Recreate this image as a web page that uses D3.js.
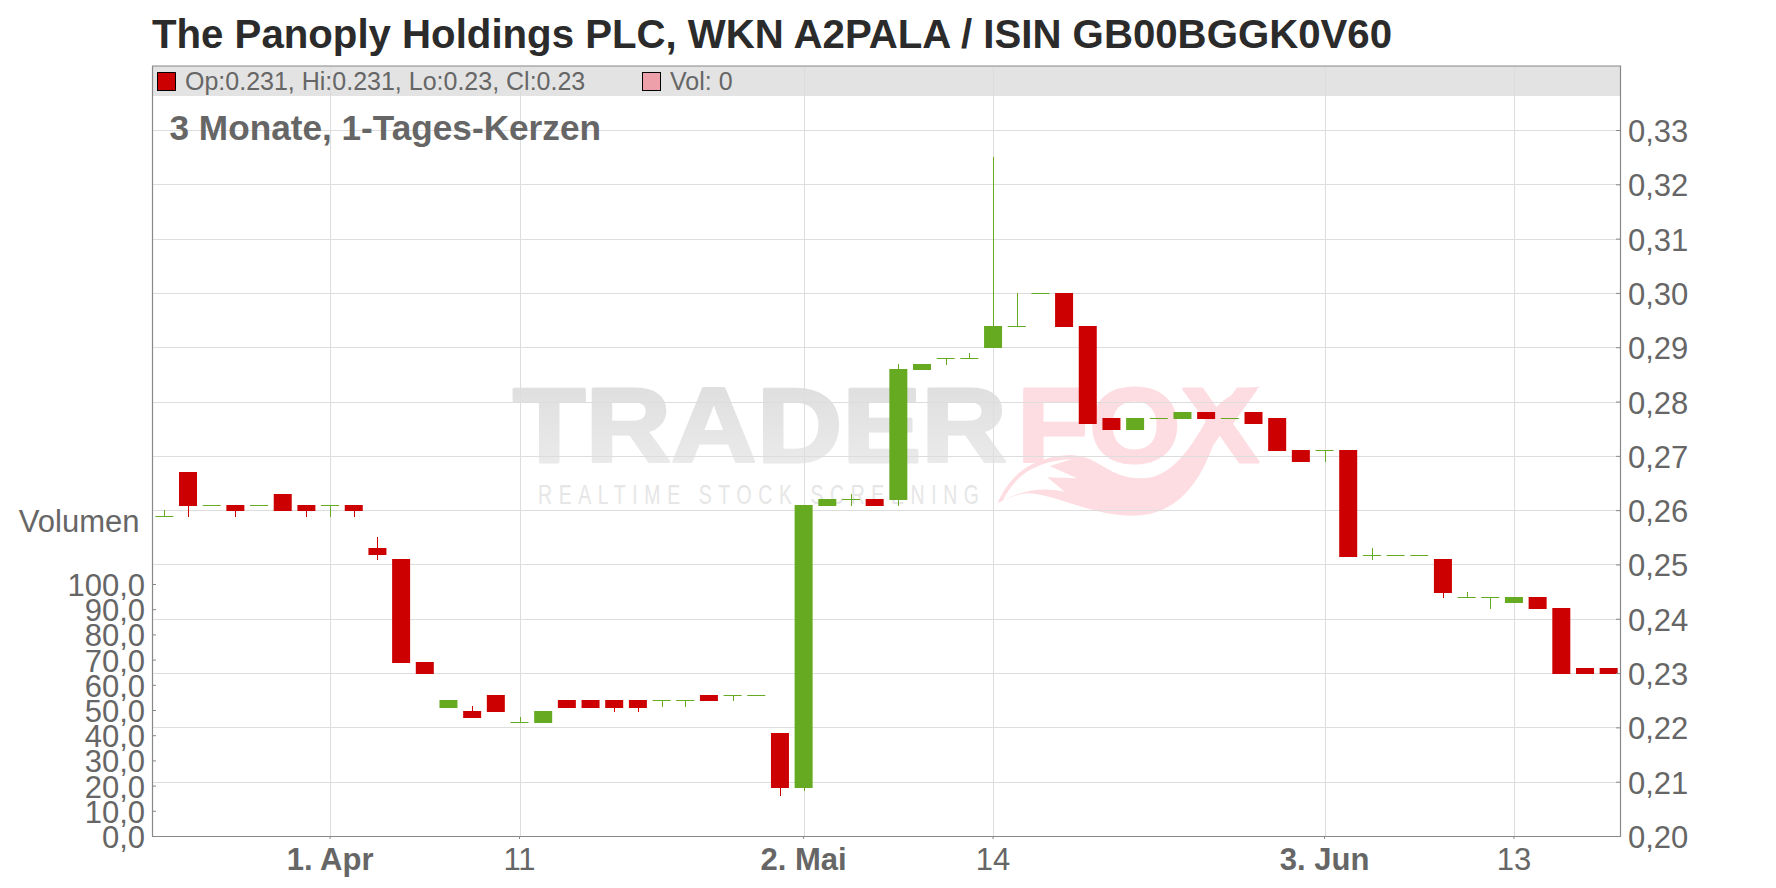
<!DOCTYPE html>
<html><head><meta charset="utf-8"><script src="https://cdn.jsdelivr.net/npm/d3@7"></script>
<style>html,body{margin:0;padding:0;background:#fff}svg{display:block}text{font-family:"Liberation Sans",Arial,sans-serif}</style></head>
<body><script>
const dates=["2019-03-21","2019-03-22","2019-03-25","2019-03-26","2019-03-27","2019-03-28","2019-03-29","2019-04-01","2019-04-02","2019-04-03","2019-04-04","2019-04-05","2019-04-08","2019-04-09","2019-04-10","2019-04-11","2019-04-12","2019-04-15","2019-04-16","2019-04-17","2019-04-18","2019-04-23","2019-04-24","2019-04-25","2019-04-26","2019-04-29","2019-04-30","2019-05-02","2019-05-03","2019-05-06","2019-05-07","2019-05-08","2019-05-09","2019-05-10","2019-05-13","2019-05-14","2019-05-15","2019-05-16","2019-05-17","2019-05-20","2019-05-21","2019-05-22","2019-05-23","2019-05-24","2019-05-27","2019-05-28","2019-05-29","2019-05-30","2019-05-31","2019-06-03","2019-06-04","2019-06-05","2019-06-06","2019-06-07","2019-06-10","2019-06-11","2019-06-12","2019-06-13","2019-06-14","2019-06-17","2019-06-18","2019-06-19"];
const open=[.259,.267,.261,.261,.261,.263,.261,.261,.261,.253,.251,.232,.2237,.223,.226,.221,.221,.225,.225,.225,.225,.225,.225,.226,.226,.226,.219,.209,.261,.262,.262,.262,.286,.288,.288,.290,.294,.300,.300,.294,.277,.275,.277,.277,.278,.277,.278,.277,.271,.271,.271,.2518,.2518,.2518,.251,.244,.244,.243,.244,.242,.231,.231];
const high=[.260,.267,.261,.261,.261,.263,.261,.261,.261,.255,.251,.232,.225,.224,.226,.222,.223,.225,.225,.225,.225,.225,.225,.226,.226,.226,.219,.261,.262,.263,.262,.287,.287,.288,.289,.325,.300,.300,.300,.294,.277,.277,.277,.278,.278,.277,.278,.277,.271,.271,.271,.253,.2518,.2518,.251,.245,.244,.244,.244,.242,.231,.231];
const low=[.259,.259,.261,.259,.261,.260,.259,.259,.259,.251,.232,.230,.2237,.222,.223,.221,.221,.2237,.2237,.223,.223,.224,.224,.225,.225,.226,.2075,.2085,.261,.261,.261,.261,.286,.287,.288,.290,.294,.300,.294,.276,.275,.275,.277,.277,.277,.277,.276,.271,.269,.269,.2516,.251,.2518,.2518,.244,.244,.242,.243,.242,.230,.230,.230];
const close=[.259,.261,.261,.260,.261,.260,.260,.261,.260,.252,.232,.230,.225,.222,.223,.221,.223,.2237,.2237,.2237,.2237,.225,.225,.225,.226,.226,.209,.261,.262,.262,.261,.286,.287,.288,.288,.294,.294,.300,.294,.276,.275,.277,.277,.278,.277,.277,.276,.271,.269,.271,.2516,.2518,.2518,.2518,.245,.244,.244,.244,.242,.230,.230,.230];
const priceTicks=[.20,.21,.22,.23,.24,.25,.26,.27,.28,.29,.30,.31,.32,.33];
const volumeTicks=[0,10,20,30,40,50,60,70,80,90,100];
const dateTicks=["2019-04-01","2019-04-11","2019-05-02","2019-05-14","2019-06-03","2019-06-13"];
const dateLabels=["1. Apr","11","2. Mai","14","3. Jun","13"];
const boldLabels=["1. Apr","2. Mai","3. Jun"];
const titleText="The Panoply Holdings PLC, WKN A2PALA / ISIN GB00BGGK0V60";
const subtitleText="3 Monate, 1-Tages-Kerzen";
const legendOHLC="Op:0.231, Hi:0.231, Lo:0.23, Cl:0.23";
const legendVol="Vol: 0";
const RED="#cc0000",GREEN="#66aa22",TXT="#666666",AXIS="#888888",GRID="#dddddd";
const L=152.5,R=1620.5,T=66,B=836.5;
const svg=d3.select("body").append("svg").attr("width",1776).attr("height",888);
const x=d3.scaleBand().domain(dates).range([L,R]).paddingInner(.24).paddingOuter(.12);
const y=d3.scaleLinear().domain([.20,.33]).range([836,130]);
const yVol=d3.scaleLinear().domain([0,100]).range([836,584]);
const cx=d=>x(d)+x.bandwidth()/2;

// watermark
const defs=svg.append("defs");
const g1=defs.append("linearGradient").attr("id","wmg").attr("x1",0).attr("x2",0).attr("y1",0).attr("y2",1);
g1.append("stop").attr("offset",0).attr("stop-color","#dcdcdc");
g1.append("stop").attr("offset",1).attr("stop-color","#ededed");
const wm=svg.append("g");
wm.append("text").attr("x",513).attr("y",462).attr("font-size",106).attr("font-weight","bold")
  .attr("textLength",494).attr("lengthAdjust","spacingAndGlyphs").attr("fill","url(#wmg)").attr("stroke","url(#wmg)").attr("stroke-width",3).attr("stroke-linejoin","round").text("TRADER");
wm.append("text").attr("x",1017).attr("y",462).attr("font-size",106).attr("font-weight","bold")
  .attr("textLength",242).attr("lengthAdjust","spacingAndGlyphs").attr("fill","#fddde1").attr("stroke","#fddde1").attr("stroke-width",3).attr("stroke-linejoin","round").text("FOX");
wm.append("text").attr("transform","translate(538,504) scale(.72,1)").attr("font-size",27).attr("textLength",441/.72).attr("lengthAdjust","spacing").attr("fill","#e6e6e6").text("REALTIME STOCK SCREENING");
const wx=v=>500+v/2.01, wy=v=>370+v/3;
const P=(a,b)=>`${wx(a).toFixed(1)},${wy(b).toFixed(1)}`;
wm.append("path").attr("fill","#fddde1").attr("d",`M${P(1000,400)} C${P(1020,330)} ${P(1060,258)} ${P(1150,255)} C${P(1210,262)} ${P(1220,325)} ${P(1290,325)} C${P(1350,325)} ${P(1390,230)} ${P(1420,150)} C${P(1440,100)} ${P(1480,50)} ${P(1530,50)} C${P(1480,70)} ${P(1450,160)} ${P(1435,220)} C${P(1410,320)} ${P(1370,437)} ${P(1270,437)} C${P(1190,437)} ${P(1110,370)} ${P(1060,370)} C${P(1040,372)} ${P(1020,385)} ${P(1000,400)} Z`);
wm.append("path").attr("fill","#ffffff").attr("d",`M${P(1010,393)} C${P(1030,335)} ${P(1060,275)} ${P(1150,267)} L${P(1105,288)} L${P(1160,325)} L${P(1100,322)} L${P(1135,365)} C${P(1090,350)} ${P(1050,360)} ${P(1010,393)} Z`);

// grid
svg.append("g").selectAll("line").data(priceTicks).join("line")
  .attr("x1",L).attr("x2",R).attr("y1",d=>Math.round(y(d))+.5).attr("y2",d=>Math.round(y(d))+.5).attr("stroke",GRID);
svg.append("g").selectAll("line").data(dateTicks).join("line")
  .attr("x1",d=>Math.round(cx(d))+.5).attr("x2",d=>Math.round(cx(d))+.5).attr("y1",T).attr("y2",B).attr("stroke",GRID);

// candles
const rows=dates.map((d,i)=>({d,o:open[i],h:high[i],l:low[i],c:close[i]}));
const col=r=>r.c>=r.o?GREEN:RED;
const cg=svg.append("g");
cg.selectAll("line").data(rows).join("line")
  .attr("x1",r=>Math.round(cx(r.d))+.5).attr("x2",r=>Math.round(cx(r.d))+.5)
  .attr("y1",r=>Math.round(y(r.h))).attr("y2",r=>Math.round(y(r.l))+1).attr("stroke",col);
cg.selectAll("rect").data(rows).join("rect")
  .attr("x",r=>x(r.d)).attr("width",x.bandwidth())
  .attr("y",r=>Math.round(y(Math.max(r.o,r.c))))
  .attr("height",r=>Math.round(y(Math.min(r.o,r.c)))-Math.round(y(Math.max(r.o,r.c)))+1)
  .attr("fill",col);

// legend band
svg.append("rect").attr("x",L).attr("y",T).attr("width",R-L).attr("height",30).attr("fill","#dcdcdc").attr("fill-opacity",.8);
svg.append("rect").attr("x",157.5).attr("y",72.5).attr("width",18).attr("height",18).attr("fill",RED).attr("stroke","#000");
svg.append("text").attr("x",185).attr("y",89.5).attr("font-size",25).attr("fill",TXT).text(legendOHLC);
svg.append("rect").attr("x",642.5).attr("y",72.5).attr("width",18).attr("height",18).attr("fill","#eea0aa").attr("stroke","#000");
svg.append("text").attr("x",670).attr("y",89.5).attr("font-size",25).attr("fill",TXT).text(legendVol);

// frame
svg.append("path").attr("fill","none").attr("stroke",AXIS).attr("stroke-width",1.2).attr("d",`M${L},${B}V${T}H${R}V${B}H${L}`);

// axes
function style(g){g.select(".domain").remove();g.selectAll(".tick line").attr("stroke",AXIS);g.selectAll("text").attr("fill",TXT).attr("font-size",31).attr("font-family",'"Liberation Sans",Arial,sans-serif');}
const comma=d3.format(".2f");
svg.append("g").attr("transform",`translate(${R-.5},0)`)
  .call(d3.axisRight(y).tickValues(priceTicks).tickSize(-4).tickFormat(d=>comma(d).replace(".",",")))
  .call(style).selectAll("text").attr("x",8).attr("dy",11.5);
svg.append("g").attr("transform",`translate(${L-.5},0)`)
  .call(d3.axisLeft(yVol).tickValues(volumeTicks).tickSize(-4).tickFormat(d=>d3.format(".1f")(d).replace(".",",")))
  .call(style).selectAll("text").attr("x",-7).attr("dy",11.5);
svg.append("g").attr("transform",`translate(0,${B-.5})`)
  .call(d3.axisBottom(x).tickValues(dateTicks).tickSize(3).tickFormat(d=>dateLabels[dateTicks.indexOf(d)]))
  .call(style).selectAll("text").attr("y",0).attr("dy",34).attr("font-weight",d=>boldLabels.includes(dateLabels[dateTicks.indexOf(d)])?"bold":"normal");

svg.append("text").attr("x",139.5).attr("y",532).attr("text-anchor","end").attr("font-size",31).attr("fill",TXT).text("Volumen");
svg.append("text").attr("x",152).attr("y",48).attr("font-size",40.2).attr("font-weight","bold").attr("fill","#2b2b2b").text(titleText);
svg.append("text").attr("x",169.5).attr("y",140).attr("font-size",35.2).attr("font-weight","bold").attr("fill",TXT).text(subtitleText);
</script></body></html>
